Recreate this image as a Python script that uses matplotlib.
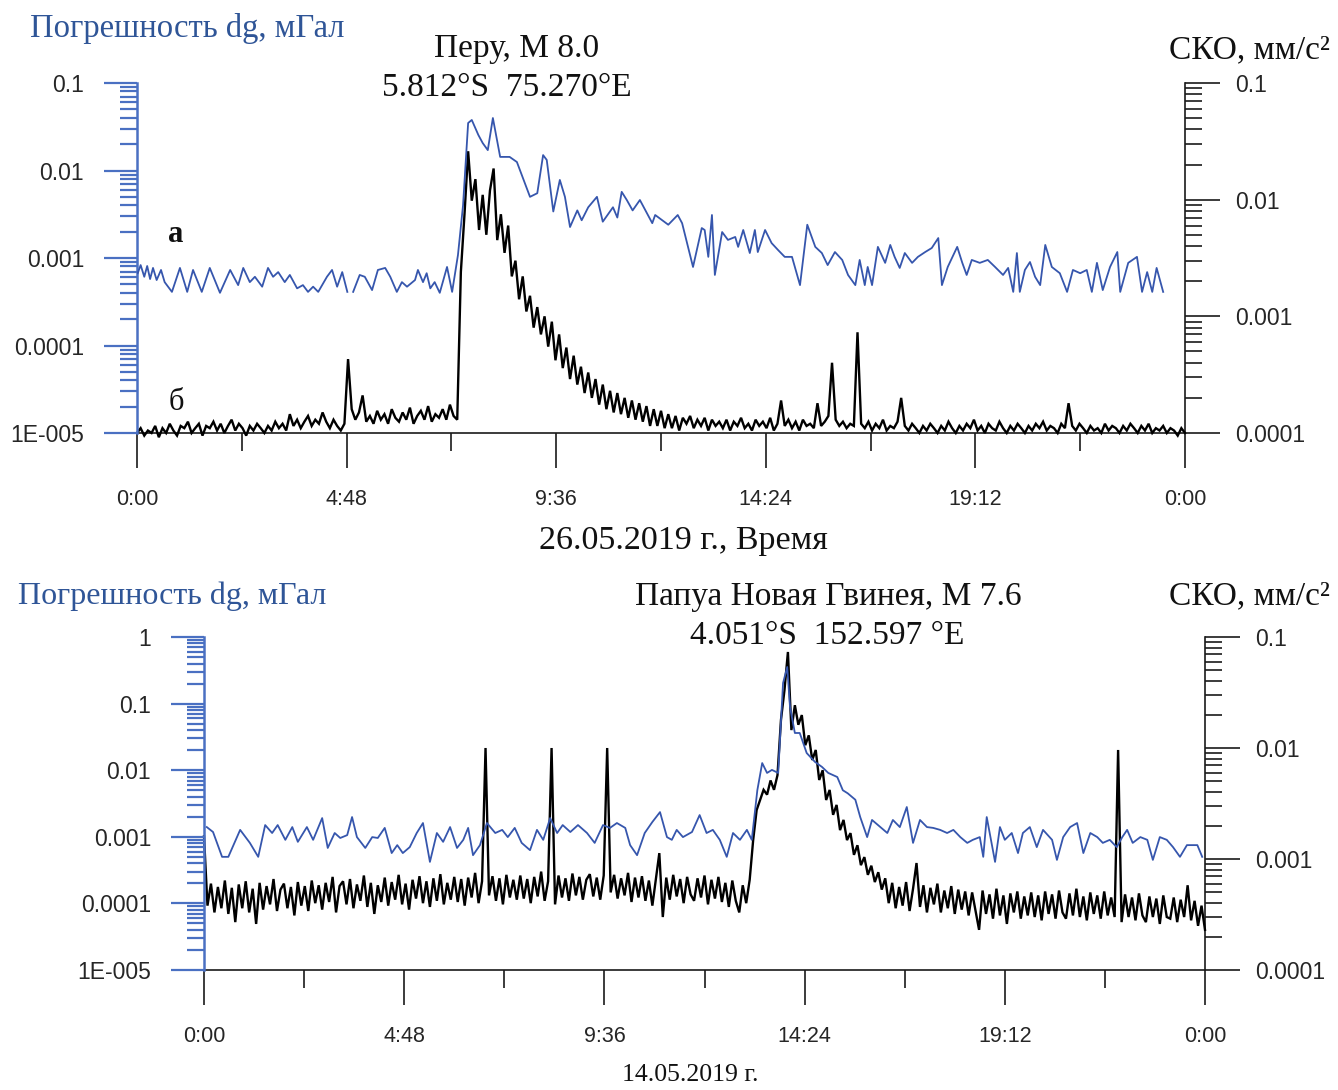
import numpy as np
import matplotlib
matplotlib.use("Agg")
import matplotlib.pyplot as plt
from matplotlib.ticker import FixedLocator, FixedFormatter, LogLocator, NullFormatter

# ---------------------------------------------------------------- data
# Panel 1: 26.05.2019 (Peru, M 8.0)
# dg error, (minute of day, value in 1e-4 mGal); NaN marks a data gap
peru_dg = [
    (1, 6.7), (5, 8.3), (10, 6.1), (14, 8.1), (18, 5.75), (22, 7.7), (27, 5.6), (33, 7.3),
    (38, 5.3), (48, 4.1), (59, 7.7), (69, 4.1), (77, 7.3), (89, 4.1), (100, 7.7), (114, 4.0),
    (128, 7.3), (139, 4.9), (146, 7.7), (155, 5.3), (162, 6.1), (172, 4.7), (180, 7.7), (187, 6.1),
    (194, 6.9), (203, 5.3), (210, 6.4), (220, 4.5), (228, 4.9), (235, 4.1), (242, 4.7), (249, 4.1),
    (261, 6.1), (268, 7.3), (275, 4.7), (282, 6.9), (289, 4.1), (293, np.nan), (297, 4.1), (306, 6.4),
    (313, 6.1), (323, 4.3), (331, 7.3), (341, 7.7), (348, 6.1), (357, 4.1), (364, 5.3), (371, 4.7),
    (382, 5.6), (386, 7.3), (393, 5.3), (398, 6.7), (403, 4.5), (409, 5.3), (416, 4.0), (426, 7.9),
    (433, 4.1), (441, 10.8), (448, 40), (455, 349), (460, 378), (469, 255), (475, 206), (482, 171),
    (489, 398), (499, 143), (512, 143), (522, 125), (540, 50), (550, 55), (558, 150), (563, 132),
    (572, 34), (581, 78), (588, 50), (595, 22.6), (605, 35), (611, 27), (620, 38), (632, 50),
    (640, 26), (654, 38), (660, 29), (666, 57), (673, 46), (681, 35), (691, 46), (708, 25),
    (712, 31), (730, 24), (743, 31), (749, 25), (764, 7.9), (776, 22), (780, 20.9), (785, 10.3),
    (790, 31), (794, 6.4), (804, 19.8), (812, 16.1), (822, 17.4), (826, 13.4), (833, 20.9), (842, 11.4),
    (849, 20.9), (853, 11.7), (863, 20.9), (872, 14.8), (881, 12.3), (890, 10.3), (900, 10.3), (911, 4.9),
    (921, 24), (932, 13.4), (941, 11.4), (949, 8.3), (959, 11.7), (969, 9.5), (977, 6.4), (987, 4.9),
    (993, 9.5), (1000, 4.9), (1004, 7.9), (1010, 4.9), (1018, 13.4), (1028, 8.8), (1035, 14.1), (1041, 10.3),
    (1048, 7.7), (1055, 11.4), (1065, 8.8), (1073, 10.3), (1083, 11.7), (1092, 13.0), (1101, 16.9), (1106, 4.9),
    (1114, 7.9), (1127, 13.4), (1134, 8.8), (1140, 6.4), (1147, 9.5), (1158, 8.8), (1169, 9.5), (1179, 7.9),
    (1190, 6.4), (1197, 7.7), (1204, 4.1), (1209, 11.4), (1213, 4.1), (1220, 7.3), (1227, 9.0), (1234, 6.1),
    (1241, 4.9), (1248, 14.1), (1257, 7.9), (1268, 6.7), (1278, 4.1), (1286, 7.3), (1296, 6.7), (1305, 7.3),
    (1312, 4.1), (1319, 8.8), (1327, 4.3), (1337, 7.9), (1347, 11.7), (1351, 4.1), (1362, 8.8), (1374, 10.3),
    (1381, 4.1), (1388, 6.9), (1395, 4.1), (1401, 7.7), (1410, 4.1),
]

# RMS, 5-minute samples over the day, in 1e-4 mm/s^2
peru_sko = [
    1.00, 1.10, 0.95, 1.05, 1.00, 1.15, 0.92, 1.10, 1.00, 1.20,
    1.05, 0.95, 1.15, 1.10, 1.25, 1.00, 1.10, 1.20, 0.95, 1.15,
    1.10, 1.25, 1.05, 1.20, 1.00, 1.15, 1.30, 1.05, 1.20, 1.10,
    0.95, 1.15, 1.05, 1.20, 1.10, 1.00, 1.15, 1.05, 1.25, 1.10,
    1.20, 1.05, 1.45, 1.15, 1.30, 1.10, 1.25, 1.40, 1.15, 1.30,
    1.20, 1.50, 1.25, 1.10, 1.30, 1.15, 1.05, 1.20, 4.30, 1.60,
    1.30, 1.50, 2.10, 1.25, 1.40, 1.20, 1.55, 1.30, 1.45, 1.20,
    1.60, 1.35, 1.25, 1.50, 1.30, 1.65, 1.20, 1.40, 1.55, 1.30,
    1.70, 1.25, 1.45, 1.35, 1.60, 1.30, 1.75, 1.40, 1.30, 24.0,
    75, 260, 98, 150, 55, 110, 50, 120, 185, 45,
    75, 35, 60, 22, 30, 14, 22, 11, 15, 8.0,
    12, 7.0, 10, 5.5, 9.0, 4.2, 7.0, 3.6, 5.4, 2.9,
    4.6, 2.6, 3.7, 2.2, 3.3, 2.0, 2.9, 1.75, 2.6, 1.6,
    2.3, 1.5, 2.2, 1.45, 2.0, 1.35, 1.9, 1.3, 1.8, 1.25,
    1.7, 1.15, 1.6, 1.15, 1.55, 1.1, 1.45, 1.1, 1.4, 1.05,
    1.35, 1.2, 1.4, 1.1, 1.3, 1.15, 1.35, 1.05, 1.3, 1.15,
    1.25, 1.1, 1.3, 1.05, 1.25, 1.15, 1.35, 1.1, 1.2, 1.05,
    1.3, 1.15, 1.25, 1.1, 1.35, 1.05, 1.2, 1.9, 1.15, 1.3,
    1.1, 1.25, 1.05, 1.3, 1.15, 1.2, 1.1, 1.8, 1.15, 1.25,
    1.4, 4.0, 1.3, 1.15, 1.25, 1.1, 1.2, 1.15, 7.3, 1.2,
    1.1, 1.25, 1.05, 1.2, 1.1, 1.3, 1.05, 1.15, 1.1, 1.25,
    2.0, 1.15, 1.05, 1.2, 1.1, 1.0, 1.15, 1.05, 1.2, 1.1,
    1.0, 1.15, 1.05, 1.25, 1.1, 1.0, 1.15, 1.05, 1.2, 1.1,
    1.3, 1.05, 1.15, 1.0, 1.2, 1.1, 1.05, 1.25, 1.1, 1.0,
    1.15, 1.05, 1.2, 1.1, 1.0, 1.15, 1.05, 1.2, 1.1, 1.25,
    1.05, 1.15, 1.1, 1.0, 1.2, 1.1, 1.8, 1.15, 1.05, 1.2,
    1.1, 1.0, 1.15, 1.05, 1.1, 1.0, 1.2, 1.05, 1.15, 1.1,
    1.0, 1.15, 1.05, 1.2, 1.1, 1.0, 1.15, 1.05, 1.2, 1.0,
    1.1, 1.05, 1.15, 1.0, 1.1, 1.05, 0.95, 1.1, 1.0,
]

# Panel 2: 14.05.2019 (Papua New Guinea, M 7.6)
png_dg = [
    (4, 14.0), (13, 11.8), (26, 5.0), (35, 5.0), (52, 12.7), (66, 8.1), (78, 5.0), (88, 15.0),
    (98, 11.4), (106, 15.0), (117, 9.0), (127, 14.0), (135, 8.4), (148, 14.0), (157, 9.0), (170, 19.1),
    (178, 6.8), (188, 11.4), (196, 9.6), (206, 10.6), (213, 19.8), (220, 9.9), (232, 6.8), (242, 9.9),
    (250, 9.6), (260, 13.6), (270, 5.7), (278, 7.5), (286, 5.7), (296, 7.0), (306, 11.4), (315, 16.1),
    (325, 4.2), (335, 11.4), (344, 8.4), (354, 14.0), (364, 6.8), (373, 9.0), (380, 13.6), (387, 5.3),
    (397, 7.5), (407, 16.1), (419, 11.4), (429, 12.7), (437, 9.9), (447, 13.6), (457, 8.1), (469, 6.3),
    (479, 12.7), (488, 9.0), (498, 19.1), (508, 11.4), (516, 15.0), (527, 11.8), (538, 15.0), (551, 11.4),
    (562, 8.1), (574, 15.0), (584, 13.6), (594, 16.1), (606, 13.6), (613, 7.5), (623, 5.3), (634, 11.4),
    (645, 16.7), (656, 23.5), (666, 9.9), (673, 9.0), (680, 12.7), (689, 9.9), (702, 11.8), (713, 21.2),
    (723, 11.4), (732, 12.7), (742, 9.0), (752, 5.0), (761, 11.4), (771, 9.0), (781, 12.7), (788, 9.0),
    (796, 50), (803, 128), (810, 91), (817, 101), (826, 91), (833, 2037), (839, 3548), (843, 889),
    (850, 362), (857, 362), (867, 181), (879, 133), (889, 112), (898, 91), (911, 79), (919, 50),
    (926, 45), (937, 36), (944, 19.8), (954, 9.9), (961, 17.9), (973, 14.0), (983, 11.4), (991, 17.9),
    (1001, 14.0), (1011, 28), (1020, 8.1), (1030, 17.9), (1040, 14.0), (1049, 13.6), (1059, 12.7), (1069, 11.4),
    (1078, 12.7), (1088, 9.9), (1098, 8.1), (1106, 9.0), (1116, 9.9), (1121, 5.0), (1126, 19.8), (1134, 7.0),
    (1138, 4.2), (1145, 14.0), (1152, 9.0), (1162, 11.4), (1171, 5.7), (1178, 11.4), (1188, 14.0), (1198, 7.0),
    (1207, 12.7), (1220, 9.0), (1227, 4.5), (1236, 9.9), (1246, 14.0), (1256, 16.1), (1265, 5.7), (1275, 11.4),
    (1285, 9.9), (1293, 8.1), (1303, 9.0), (1313, 7.0), (1321, 9.9), (1328, 12.7), (1336, 8.1), (1347, 9.9),
    (1357, 9.0), (1365, 4.5), (1375, 9.9), (1385, 9.0), (1394, 7.0), (1404, 5.0), (1414, 7.5), (1429, 7.5),
    (1436, 5.0),
]

png_sko = [
    16, 3.8, 6.0, 3.3, 5.6, 3.6, 6.4, 3.2, 5.5, 2.7,
    5.9, 3.6, 6.3, 3.3, 5.4, 2.6, 6.1, 3.5, 5.7, 3.9,
    6.6, 3.4, 5.3, 6.0, 3.6, 5.6, 3.1, 6.2, 3.8, 5.7,
    3.4, 6.4, 4.0, 5.8, 3.5, 6.1, 4.1, 6.9, 3.3, 5.7,
    6.3, 3.9, 6.6, 3.6, 5.9, 4.2, 7.1, 3.7, 6.1, 3.2,
    5.8, 4.1, 6.8, 3.8, 6.2, 4.3, 7.2, 3.9, 6.0, 3.5,
    6.5, 4.4, 7.0, 4.0, 6.3, 3.7, 6.7, 4.2, 7.3, 3.9,
    6.1, 4.3, 6.9, 4.1, 6.6, 3.8, 6.8, 4.5, 7.5, 4.0,
    6.3, 100, 4.7, 7.0, 4.2, 6.7, 3.9, 7.2, 4.5, 6.5,
    4.3, 7.1, 4.4, 6.6, 4.0, 6.9, 4.6, 7.7, 4.2, 6.3,
    100, 3.9, 7.1, 4.5, 6.7, 4.2, 7.4, 4.7, 6.9, 4.3,
    6.5, 7.3, 4.6, 6.8, 4.3, 7.1, 100, 5.0, 7.2, 4.4,
    6.7, 4.7, 7.5, 4.1, 6.8, 4.5, 7.0, 4.2, 6.4, 3.8,
    6.6, 11.3, 3.0, 6.8, 4.3, 7.2, 4.6, 6.6, 4.0, 6.9,
    4.8, 4.2, 6.7, 4.5, 7.1, 3.9, 6.5, 4.4, 6.9, 4.1,
    6.1, 3.7, 6.4, 4.2, 3.3, 5.8, 4.0, 6.5, 14.8, 27.6,
    34, 42, 38, 51, 42, 57, 179, 330, 733, 145,
    243, 162, 198, 106, 130, 78, 96, 51.5, 63, 34,
    41.9, 25, 30.7, 18.2, 22.5, 14.8, 17.1, 10.9, 13.3, 8.8,
    10.4, 7.2, 8.7, 6.2, 7.6, 5.3, 6.7, 4.0, 6.1, 3.6,
    5.6, 3.8, 6.2, 3.4, 5.4, 9.2, 3.7, 5.8, 3.3, 5.5,
    3.9, 6.0, 3.3, 5.2, 3.6, 5.7, 3.2, 5.3, 3.5, 5.1,
    3.1, 5.0, 3.4, 2.3, 5.2, 3.2, 4.8, 2.9, 5.4, 3.1,
    4.7, 2.6, 4.9, 3.3, 5.1, 2.9, 4.6, 3.1, 5.0, 3.0,
    4.7, 2.8, 5.1, 3.2, 4.8, 2.9, 5.2, 3.3, 2.9, 4.9,
    3.1, 5.4, 3.0, 4.6, 2.8, 5.0, 3.2, 4.7, 2.9, 5.1,
    3.1, 4.5, 3.0, 96, 2.7, 4.8, 3.0, 4.5, 2.8, 4.9,
    3.1, 2.7, 4.6, 3.0, 4.4, 2.6, 4.7, 3.0, 2.9, 4.5,
    2.7, 4.3, 3.0, 5.8, 2.8, 4.2, 2.5, 3.8, 2.3,
]

time_ticks_h = [0, 4.8, 9.6, 14.4, 19.2, 24]
time_labels = ["0:00", "4:48", "9:36", "14:24", "19:12", "0:00"]
time_minor_h = [2.4, 7.2, 12.0, 16.8, 21.6]

sko_ticks = [1e-4, 1e-3, 1e-2, 1e-1]
sko_labels = ["0.0001", "0.001", "0.01", "0.1"]
peru_dg_ticks = [1e-5, 1e-4, 1e-3, 1e-2, 1e-1]
peru_dg_labels = ["1E-005", "0.0001", "0.001", "0.01", "0.1"]
png_dg_ticks = [1e-5, 1e-4, 1e-3, 1e-2, 1e-1, 1]
png_dg_labels = ["1E-005", "0.0001", "0.001", "0.01", "0.1", "1"]

# ---------------------------------------------------------------- style
SANS = ["Liberation Sans", "DejaVu Sans"]
SERIF = ["Liberation Serif", "DejaVu Serif"]
plt.rcParams["font.family"] = SANS
BLUE_LINE = "#3656ad"
BLUE_AXIS = "#4a70c2"
BLUE_TEXT = "#2f5597"
LABEL_C = "#262626"

W, H = 1338, 1090
fig = plt.figure(figsize=(W / 100, H / 100), dpi=100)


def fx(px):
    return px / W


def fy(py):
    return 1 - py / H


def panel(x0, ytop, x1, ybot, dg_pts, sko_vals, dg_lim, dg_ticks, dg_labels):
    ax = fig.add_axes([fx(x0), fy(ybot), fx(x1) - fx(x0), fy(ytop) - fy(ybot)])
    axl = ax.twinx()

    # right axis: RMS (black)
    ax.set_yscale("log")
    ax.set_ylim(1e-4, 1e-1)
    ax.yaxis.tick_right()
    ax.yaxis.set_major_locator(FixedLocator(sko_ticks))
    ax.yaxis.set_major_formatter(FixedFormatter(sko_labels))
    ax.yaxis.set_minor_locator(LogLocator(base=10, subs=np.arange(2, 10) * 1.0, numticks=50))
    ax.yaxis.set_minor_formatter(NullFormatter())
    ax.tick_params(axis="y", which="major", direction="out", length=25, width=1.2,
                   color="#1a1a1a", pad=11, labelsize=16.5, labelcolor=LABEL_C)
    ax.tick_params(axis="y", which="minor", direction="out", length=12, width=1.2, color="#1a1a1a")

    # time axis
    ax.set_xlim(0, 24)
    ax.xaxis.set_major_locator(FixedLocator(time_ticks_h))
    ax.xaxis.set_major_formatter(FixedFormatter(time_labels))
    ax.xaxis.set_minor_locator(FixedLocator(time_minor_h))
    ax.tick_params(axis="x", which="major", direction="out", length=25, width=1.2,
                   color="#1a1a1a", pad=15, labelsize=15.5, labelcolor=LABEL_C)
    ax.tick_params(axis="x", which="minor", direction="out", length=13, width=1.2, color="#1a1a1a")

    for s in ("top", "left"):
        ax.spines[s].set_visible(False)
    for s in ("bottom", "right"):
        ax.spines[s].set_color("#1a1a1a")
        ax.spines[s].set_linewidth(1.2)

    # left axis: dg error (blue)
    axl.set_yscale("log")
    axl.set_ylim(*dg_lim)
    axl.yaxis.tick_left()
    axl.yaxis.set_major_locator(FixedLocator(dg_ticks))
    axl.yaxis.set_major_formatter(FixedFormatter(dg_labels))
    axl.yaxis.set_minor_locator(LogLocator(base=10, subs=np.arange(2, 10) * 1.0, numticks=50))
    axl.yaxis.set_minor_formatter(NullFormatter())
    axl.tick_params(axis="y", which="major", direction="out", length=24, width=1.6,
                    color=BLUE_AXIS, pad=14, labelsize=16.5, labelcolor=LABEL_C)
    axl.tick_params(axis="y", which="minor", direction="out", length=12, width=1.6, color=BLUE_AXIS)
    for s in ("top", "right", "bottom"):
        axl.spines[s].set_visible(False)
    axl.spines["left"].set_color(BLUE_AXIS)
    axl.spines["left"].set_linewidth(1.8)

    # series
    n = len(sko_vals)
    t_sko = np.linspace(0, 24, n)
    ax.plot(t_sko, np.asarray(sko_vals) * 1e-4, color="black", lw=1.7,
            solid_joinstyle="miter", clip_on=False, zorder=3)
    t_dg = np.array([p[0] for p in dg_pts]) / 60.0
    v_dg = np.array([p[1] for p in dg_pts]) * 1e-4
    axl.plot(t_dg, v_dg, color=BLUE_LINE, lw=1.3, zorder=4)
    return ax, axl


panel(137, 83, 1185, 433, peru_dg, peru_sko, (1e-5, 1e-1), peru_dg_ticks, peru_dg_labels)
panel(204, 637, 1205, 970, png_dg, png_sko, (1e-5, 1.0), png_dg_ticks, png_dg_labels)

# ---------------------------------------------------------------- text
def t(px, py, s, size, color="#111111", ha="center", va="center", **kw):
    fig.text(fx(px), fy(py), s, fontsize=size, color=color, ha=ha, va=va, family=SERIF, **kw)


t(30, 28, "Погрешность dg, мГал", 23.5, color=BLUE_TEXT, ha="left")
t(517, 49, "Перу, М 8.0", 24)
t(507, 88, "5.812°S  75.270°E", 24)
t(1330, 50, "СКО, мм/с²", 24, ha="right")
t(176, 235, "а", 22, weight="bold")
t(176, 402, "б", 22)
t(683, 541, "26.05.2019 г., Время", 24.5)

t(18, 596, "Погрешность dg, мГал", 23, color=BLUE_TEXT, ha="left")
t(828, 597, "Папуа Новая Гвинея, М 7.6", 24)
t(827, 636, "4.051°S  152.597 °E", 24)
t(1330, 596, "СКО, мм/с²", 24, ha="right")
t(690, 1075, "14.05.2019 г.", 18.5)

fig.savefig("out.png", dpi=100)
